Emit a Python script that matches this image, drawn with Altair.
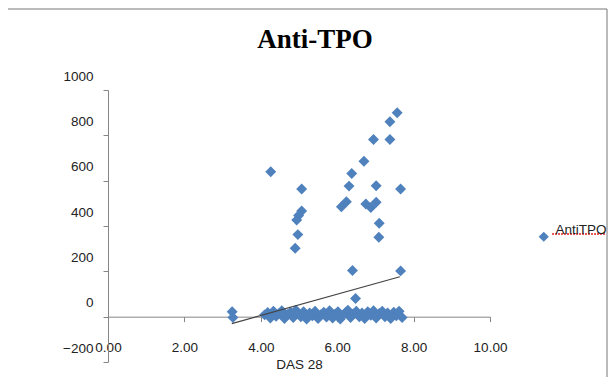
import altair as alt
import pandas as pd

# Upper scattered points (DAS 28, Anti-TPO)
high_x = [4.26, 5.07, 5.07, 4.99, 4.94, 4.97, 4.90, 6.11, 6.24, 6.31, 6.38, 6.70,
          6.95, 6.75, 6.88, 7.02, 7.02, 7.10, 7.09, 7.38, 7.38, 7.57, 7.66, 6.40,
          7.66, 6.48]
high_y = [639, 563, 466, 446, 426, 362, 302, 485, 507, 576, 632, 686,
          782, 497, 482, 505, 578, 412, 350, 782, 860, 900, 563, 204,
          202, 80]

# Dense band of points near zero
low_x = [3.25, 3.27, 4.10, 4.18, 4.25, 4.33, 4.40, 4.48, 4.55, 4.62, 4.70, 4.78,
         4.85, 4.92, 4.98, 5.05, 5.12, 5.20, 5.28, 5.35, 5.42, 5.50, 5.58, 5.65,
         5.72, 5.80, 5.88, 5.95, 6.02, 6.08, 6.15, 6.22, 6.28, 6.35, 6.42, 6.50,
         6.58, 6.65, 6.72, 6.80, 6.88, 6.95, 7.02, 7.10, 7.18, 7.25, 7.32, 7.40,
         7.48, 7.55, 7.62, 7.70]
low_y = [22, -4, 8, 18, -6, 24, 2, 14, 26, -8, 10, 20,
         -4, 28, 12, 0, 22, -10, 16, 4, 24, -8, 10, 20,
         -2, 26, -6, 12, 22, -10, 6, 18, 28, -4, 12, 24,
         0, 16, -8, 22, 6, 26, -6, 14, 24, 0, 16, -8,
         20, 4, 24, -4]

# Linear trend line end points
trend_x = [3.24, 7.64]
trend_y = [-31, 176]

x_ticks = [0, 2, 4, 6, 8, 10]
y_ticks = [-200, 0, 200, 400, 600, 800, 1000]
series_name = "AntiTPO"
chart_title = "Anti-TPO"

pts = pd.DataFrame({
    "das": high_x + low_x,
    "tpo": high_y + low_y,
    "series": [series_name] * (len(high_x) + len(low_x)),
})
trend = pd.DataFrame({"das": trend_x, "tpo": trend_y})
one = pd.DataFrame({"a": [0]})

xscale = alt.Scale(domain=[0, 10], nice=False, zero=False)
yscale = alt.Scale(domain=[-200, 1000], nice=False, zero=False)

xaxis = alt.Axis(values=x_ticks, format=".2f", offset=-45.33, labelPadding=19,
                 tickSize=5, title="DAS 28", titlePadding=3, titleFontWeight="normal",
                 titleFontSize=13.5, titleFont="Liberation Sans", titleColor="#222",
                 labelFlush=False, labelOverlap=False)
yaxis = alt.Axis(values=y_ticks, format="d", labelOffset=-14, labelPadding=10,
                 tickSize=5, title=None, labelFlush=False, labelOverlap=False)

points = alt.Chart(pts).mark_point(shape="diamond", filled=True, size=120, opacity=1).encode(
    x=alt.X("das:Q", scale=xscale, axis=xaxis),
    y=alt.Y("tpo:Q", scale=yscale, axis=yaxis),
    color=alt.Color("series:N", scale=alt.Scale(range=["#4F81BD"]),
                    legend=alt.Legend(orient="none", legendX=429, legendY=140, title=None,
                                      padding=0, symbolSize=105, symbolType="diamond",
                                      symbolStrokeWidth=0, labelFont="Liberation Sans",
                                      labelFontSize=13.5, labelColor="#222", labelOffset=5,
                                      labelBaseline="bottom")),
)

line = alt.Chart(trend).mark_line(color="#444", strokeWidth=1.2).encode(
    x=alt.X("das:Q", scale=xscale),
    y=alt.Y("tpo:Q", scale=yscale),
)

title_text = alt.Chart(one).mark_text(
    font="Liberation Serif", fontSize=27, fontWeight="bold", color="black",
    align="center", baseline="alphabetic",
).encode(x=alt.value(207), y=alt.value(-42), text=alt.value(chart_title))

top_border = alt.Chart(one).mark_rule(color="#777", strokeWidth=1).encode(
    x=alt.value(-100), x2=alt.value(499), y=alt.value(-81))
right_border = alt.Chart(one).mark_rule(color="#777", strokeWidth=1).encode(
    x=alt.value(499), y=alt.value(-81), y2=alt.value(287))
squiggle = alt.Chart(one).mark_rule(color="#e02020", strokeWidth=1.5, strokeDash=[2, 1]).encode(
    x=alt.value(444), x2=alt.value(498), y=alt.value(144))

chart = alt.layer(points, line, title_text, top_border, right_border, squiggle).properties(
    width=382, height=272,
    autosize=alt.AutoSizeParams(type="none"),
    padding={"left": 100, "top": 82, "right": 118, "bottom": 15},
).configure_axis(
    domainColor="#868686", tickColor="#868686", labelFont="Liberation Sans",
    labelFontSize=13.5, labelColor="#222", grid=False,
).configure_view(strokeWidth=0)

chart.save("out.html", embed_options={"renderer": "svg", "actions": False})
